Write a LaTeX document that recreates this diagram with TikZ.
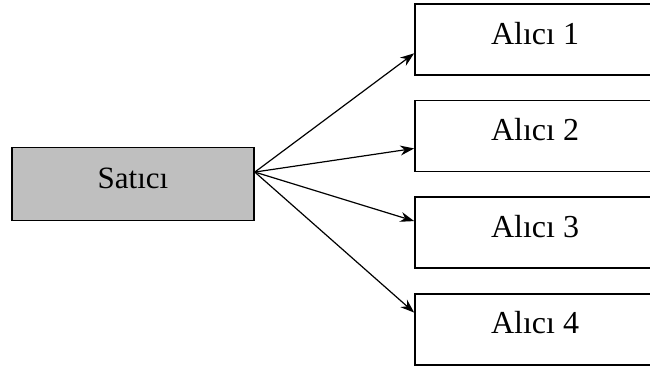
\documentclass[tikz,border=0pt]{standalone}
\usepackage{fontspec}
\setmainfont{Liberation Serif}
\usetikzlibrary{arrows.meta, positioning, calc}

\begin{document}
\begin{tikzpicture}[x=1pt,y=-1pt,>={Stealth[length=14pt,width=10pt]},
 node distance=24pt,
 box/.style={draw, line width=1.6pt, minimum width=240pt, minimum height=71pt,
   inner sep=0pt, text height=20pt, text depth=11pt,
   font=\fontsize{31}{31}\selectfont}]
  \useasboundingbox (0,0) rectangle (650,367);
  \clip (0,0) rectangle (650,367);

  % seller on the left, buyers stacked on the right
  \node[box, fill=black!25, minimum width=242pt, minimum height=73pt] (satici) at (133,184) {Satıcı};
  \node[box, font=\fontsize{32}{32}\selectfont] (alici1) at (535,39.5) {Alıcı 1};
  \node[box, font=\fontsize{32}{32}\selectfont] (alici2) [below=of alici1] {Alıcı 2};
  \node[box, font=\fontsize{32}{32}\selectfont] (alici3) [below=of alici2] {Alıcı 3};
  \node[box, font=\fontsize{32}{32}\selectfont] (alici4) [below=of alici3] {Alıcı 4};

  \coordinate (src) at ($(satici.north east)!0.34!(satici.south east)$);
  \foreach \n/\f in {1/0.69, 2/0.67, 3/0.34, 4/0.27} {
    \draw[->, line width=1.2pt] (src) -- ($(alici\n.north west)!\f!(alici\n.south west)$);}
\end{tikzpicture}
\end{document}
